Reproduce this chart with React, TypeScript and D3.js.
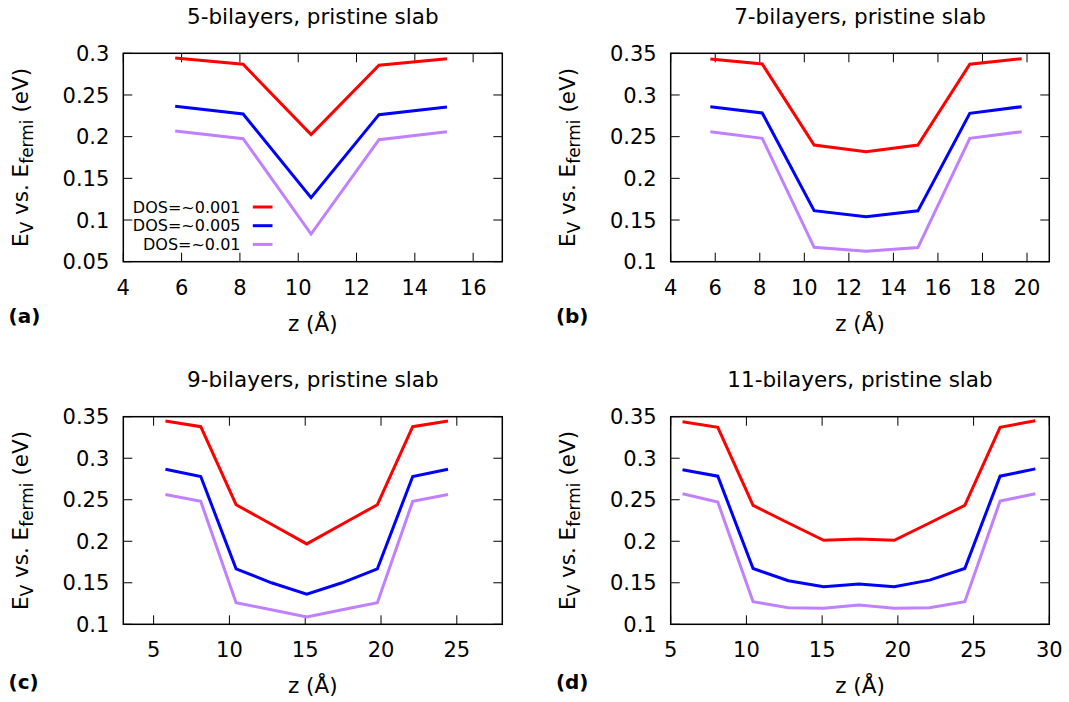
import React from "react";
import * as d3 from "d3";

// ---------- data ----------
const seriesLabels = ["DOS=~0.001", "DOS=~0.005", "DOS=~0.01"];
const seriesColors = ["#ff0000", "#0000ff", "#c080ff"];

const zA = [5.78, 8.11, 10.44, 12.77, 15.1];
const aDos001 = [0.2944, 0.2868, 0.2026, 0.2856, 0.2936];
const aDos005 = [0.2364, 0.2272, 0.1268, 0.2264, 0.2356];
const aDos01 = [0.2068, 0.1976, 0.0832, 0.1964, 0.206];

const zB = [5.78, 8.11, 10.44, 12.77, 15.1, 17.43, 19.76];
const bDos001 = [0.3432, 0.3372, 0.24, 0.232, 0.24, 0.337, 0.3436];
const bDos005 = [0.286, 0.2784, 0.1612, 0.154, 0.161, 0.278, 0.286];
const bDos01 = [0.256, 0.248, 0.1172, 0.1124, 0.117, 0.248, 0.256];

const zC = [5.78, 8.11, 10.44, 12.77, 15.1, 17.43, 19.76, 22.09, 24.42];
const cDos001 = [0.3448, 0.338, 0.244, 0.2205, 0.1968, 0.2205, 0.244, 0.338, 0.3448];
const cDos005 = [0.2868, 0.278, 0.1668, 0.15, 0.1364, 0.15, 0.1668, 0.278, 0.2868];
const cDos01 = [0.2564, 0.248, 0.126, 0.1175, 0.1088, 0.1175, 0.126, 0.248, 0.2564];

const zD = [5.78, 8.11, 10.44, 12.77, 15.1, 17.43, 19.76, 22.09, 24.42, 26.75, 29.08];
const dDos001 = [0.344, 0.3372, 0.2432, 0.222, 0.2012, 0.2028, 0.2012, 0.222, 0.2432, 0.3372, 0.3452];
const dDos005 = [0.286, 0.2784, 0.1672, 0.1524, 0.1452, 0.1484, 0.1452, 0.1532, 0.1672, 0.2784, 0.2872];
const dDos01 = [0.2572, 0.2472, 0.1272, 0.12, 0.1192, 0.1232, 0.1192, 0.12, 0.1272, 0.2484, 0.2572];

const xTicksA = [4, 6, 8, 10, 12, 14, 16];
const xTicksB = [4, 6, 8, 10, 12, 14, 16, 18, 20];
const xTicksC = [5, 10, 15, 20, 25];
const xTicksD = [5, 10, 15, 20, 25, 30];
const yTicksA = [0.05, 0.1, 0.15, 0.2, 0.25, 0.3];
const yTicksBCD = [0.1, 0.15, 0.2, 0.25, 0.3, 0.35];

const titles = [
  "5-bilayers, pristine slab",
  "7-bilayers, pristine slab",
  "9-bilayers, pristine slab",
  "11-bilayers, pristine slab",
];
const panelTags = ["(a)", "(b)", "(c)", "(d)"];

// ---------- layout ----------
const W = 1069;
const H = 702;
const FONT = "DejaVu Sans, Liberation Sans, sans-serif";
const TICK_FS = 21;
const LABEL_FS = 21.5;

const panels = [
  { z: zA, ys: [aDos001, aDos005, aDos01], xDom: [4, 17], yDom: [0.05, 0.3], xt: xTicksA, yt: yTicksA,
    l: 123.3, r: 502.3, t: 53.3, b: 261.7, tagY: 323, legend: true },
  { z: zB, ys: [bDos001, bDos005, bDos01], xDom: [4, 21], yDom: [0.1, 0.35], xt: xTicksB, yt: yTicksBCD,
    l: 670.7, r: 1049.3, t: 53.3, b: 261.7, tagY: 323, legend: false },
  { z: zC, ys: [cDos001, cDos005, cDos01], xDom: [3, 28], yDom: [0.1, 0.35], xt: xTicksC, yt: yTicksBCD,
    l: 123.3, r: 502.3, t: 416.7, b: 624.3, tagY: 689, legend: false },
  { z: zD, ys: [dDos001, dDos005, dDos01], xDom: [5, 30], yDom: [0.1, 0.35], xt: xTicksD, yt: yTicksBCD,
    l: 670.7, r: 1049.3, t: 416.7, b: 624.3, tagY: 689, legend: false },
];

const fmt = (v: number) => String(+v.toFixed(2));

function Panel({ p, idx }: { p: any; idx: number }) {
  const x = d3.scaleLinear().domain(p.xDom).range([p.l, p.r]);
  const y = d3.scaleLinear().domain(p.yDom).range([p.b, p.t]);
  const line = d3
    .line<[number, number]>()
    .x((d) => x(d[0]))
    .y((d) => y(d[1]));
  const tickLen = 9;
  const cx = (p.l + p.r) / 2;
  const cy = (p.t + p.b) / 2;
  return (
    <g>
      {p.xt.map((v: number) => (
        <g key={"xt" + v}>
          <line x1={x(v)} x2={x(v)} y1={p.b} y2={p.b - tickLen} stroke="#000" strokeWidth={1} />
          <line x1={x(v)} x2={x(v)} y1={p.t} y2={p.t + tickLen} stroke="#000" strokeWidth={1} />
          <text x={x(v)} y={p.b + 33} textAnchor="middle" fontSize={TICK_FS} fontFamily={FONT} fill="#000">
            {v}
          </text>
        </g>
      ))}
      {p.yt.map((v: number) => (
        <g key={"yt" + v}>
          <line x1={p.l} x2={p.l + tickLen} y1={y(v)} y2={y(v)} stroke="#000" strokeWidth={1} />
          <line x1={p.r} x2={p.r - tickLen} y1={y(v)} y2={y(v)} stroke="#000" strokeWidth={1} />
          <text x={p.l - 14} y={y(v)} dy="0.36em" textAnchor="end" fontSize={TICK_FS} fontFamily={FONT} fill="#000">
            {fmt(v)}
          </text>
        </g>
      ))}
      {p.ys.map((vals: number[], si: number) => (
        <path
          key={"s" + si}
          d={line(p.z.map((zz: number, i: number) => [zz, vals[i]] as [number, number])) || ""}
          fill="none"
          stroke={seriesColors[si]}
          strokeWidth={3}
          strokeLinejoin="miter"
        />
      ))}
      <rect x={p.l} y={p.t} width={p.r - p.l} height={p.b - p.t} fill="none" stroke="#000" strokeWidth={1.5} />
      <text x={cx} y={p.t - 29.5} textAnchor="middle" fontSize={LABEL_FS} fontFamily={FONT} fill="#000">
        {titles[idx]}
      </text>
      <text x={cx} y={p.b + 69} textAnchor="middle" fontSize={LABEL_FS} fontFamily={FONT} fill="#000">
        z (Å)
      </text>
      <text
        transform={`translate(${p.l - 103},${cy}) rotate(-90)`}
        textAnchor="middle"
        dy="0.36em"
        fontSize={LABEL_FS}
        fontFamily={FONT}
        fill="#000"
      >
        <tspan>E</tspan>
        <tspan fontSize={17} dy={5}>V</tspan>
        <tspan dy={-5}> vs. E</tspan>
        <tspan fontSize={17} dy={5}>fermi</tspan>
        <tspan dy={-5}> (eV)</tspan>
      </text>
      <text x={p.l - 114.8} y={p.tagY} fontSize={20} fontWeight="bold" fontFamily={FONT} fill="#000">
        {panelTags[idx]}
      </text>
      {p.legend &&
        seriesLabels.map((lab, si) => {
          const ry = 207 + si * 18.7;
          return (
            <g key={"lg" + si}>
              <text x={240.5} y={ry} dy="0.36em" textAnchor="end" fontSize={16} fontFamily={FONT} fill="#000">
                {lab}
              </text>
              <line x1={252.8} x2={272.5} y1={ry} y2={ry} stroke={seriesColors[si]} strokeWidth={3} />
            </g>
          );
        })}
    </g>
  );
}

export default function App() {
  return (
    <svg
      width={W}
      height={H}
      viewBox={`0 0 ${W} ${H}`}
      style={{ position: "absolute", left: 0, top: 0, background: "#fff", display: "block" }}
    >
      <rect x={0} y={0} width={W} height={H} fill="#fff" />
      {panels.map((p, i) => (
        <Panel key={i} p={p} idx={i} />
      ))}
    </svg>
  );
}
